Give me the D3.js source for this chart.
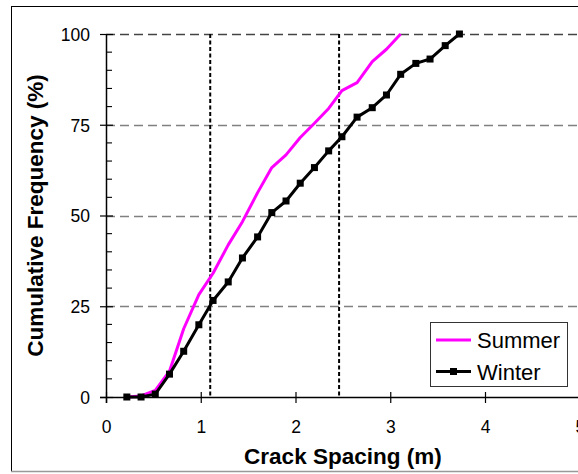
<!DOCTYPE html>
<html><head><meta charset="utf-8">
<script src="https://cdn.jsdelivr.net/npm/d3@7"></script>
<style>
html,body{margin:0;padding:0;background:#fff;}
svg{display:block;font-family:"Liberation Sans",Arial,sans-serif;}
</style></head>
<body>
<svg id="chart" width="578" height="474"></svg>
<script>
// ---- data ----
const winterX = [0.22,0.37,0.52,0.67,0.82,0.98,1.13,1.29,1.44,1.60,1.75,1.90,2.05,2.20,2.35,2.49,2.65,2.81,2.96,3.11,3.27,3.42,3.58,3.73];
const winterY = [0,0,0.8,6.3,12.6,19.9,26.6,31.7,38.3,44.1,50.8,54.0,58.9,63.2,67.8,71.7,77.1,79.7,83.2,88.9,91.9,93.1,96.8,100];
const summerX = [0.22,0.37,0.52,0.67,0.82,0.98,1.13,1.29,1.44,1.60,1.75,1.90,2.05,2.20,2.35,2.49,2.65,2.81,2.96,3.11];
const summerY = [0,0.3,1.8,7.1,18.8,28.2,34.1,41.9,48.3,56.3,63.2,66.7,71.5,75.4,79.5,84.4,86.6,92.4,95.8,100];
const xTicks = [0,1,2,3,4,5];
const yTicks = [0,25,50,75,100];
const yMinorTicks = [5,10,15,20,30,35,40,45,55,60,65,70,80,85,90,95];
const refLinesX = [1.1,2.46];
const seriesNames = ["Summer","Winter"];
const xTitle = "Crack Spacing (m)";
const yTitle = "Cumulative Frequency (%)";

const svg = d3.select("#chart");
const x = d3.scaleLinear().domain([0,5]).range([106, 579.75]);
const y = d3.scaleLinear().domain([0,100]).range([397, 34]);

// outer frame
svg.append("rect").attr("x",11.5).attr("y",6.5).attr("width",600).attr("height",465)
  .attr("fill","#fff").attr("stroke","#000").attr("stroke-width",1);
svg.append("line").attr("x1",11).attr("x2",578).attr("y1",471.5).attr("y2",471.5)
  .attr("stroke","#999").attr("stroke-width",1.5);

// horizontal gridlines
svg.append("g").selectAll("line").data(yTicks.filter(d=>d>0)).join("line")
  .attr("x1",x(0)).attr("x2",578)
  .attr("y1",d=>Math.round(y(d))+0.5).attr("y2",d=>Math.round(y(d))+0.5)
  .attr("stroke",d=>d===100?"#444":"#808080").attr("stroke-width",1.3)
  .attr("stroke-dasharray","9,5");

// vertical dotted reference lines
svg.append("g").selectAll("line").data(refLinesX).join("line")
  .attr("x1",d=>x(d)).attr("x2",d=>x(d)).attr("y1",y(100)).attr("y2",y(0))
  .attr("stroke","#000").attr("stroke-width",2).attr("stroke-dasharray","4,2.5");

// axes
const xAxis = d3.axisBottom(x).tickValues(xTicks).tickSize(0).tickPadding(0).tickFormat(d3.format("d"));
const gx = svg.append("g").attr("transform",`translate(0,${y(0)})`).call(xAxis);
gx.select(".domain").remove();
gx.append("line").attr("x1",x(0)-6).attr("x2",578).attr("y1",0.5).attr("y2",0.5).attr("stroke","#000").attr("stroke-width",1.5);
gx.selectAll(".tick").append("line").attr("y1",-5).attr("y2",6).attr("stroke","#000").attr("stroke-width",1.2);
gx.selectAll(".tick text").attr("y",36).attr("dy",null).attr("fill","#000")
  .attr("font-size",17.5).attr("font-family","Liberation Sans, Arial, sans-serif");

const yAxis = d3.axisLeft(y).tickValues(yTicks).tickSize(0).tickPadding(0).tickFormat(d3.format("d"));
const gy = svg.append("g").attr("transform",`translate(${x(0)},0)`).call(yAxis);
gy.select(".domain").remove();
gy.append("line").attr("x1",0.5).attr("x2",0.5).attr("y1",y(100)).attr("y2",y(0)+6).attr("stroke","#000").attr("stroke-width",1.5);
gy.selectAll(".tick").append("line").attr("x1",-6).attr("x2",7).attr("stroke","#000").attr("stroke-width",1.2);
gy.selectAll(".tick text").attr("x",-16).attr("dy","0.36em").attr("fill","#000")
  .attr("font-size",17.5).attr("font-family","Liberation Sans, Arial, sans-serif");
gy.append("g").selectAll("line").data(yMinorTicks).join("line")
  .attr("x1",0).attr("x2",6).attr("y1",d=>y(d)).attr("y2",d=>y(d))
  .attr("stroke","#000").attr("stroke-width",1.1);

// series
const line = d3.line().x(d=>x(d[0])).y(d=>y(d[1]));
const summer = summerX.map((v,i)=>[v,summerY[i]]);
const winter = winterX.map((v,i)=>[v,winterY[i]]);
svg.append("path").datum(summer).attr("d",line).attr("fill","none")
  .attr("stroke","#FF00FF").attr("stroke-width",3).attr("stroke-linejoin","round");
svg.append("path").datum(winter).attr("d",line).attr("fill","none")
  .attr("stroke","#000").attr("stroke-width",3).attr("stroke-linejoin","round");
svg.append("g").selectAll("rect").data(winter).join("rect")
  .attr("x",d=>x(d[0])-3.5).attr("y",d=>y(d[1])-3.5).attr("width",7).attr("height",7).attr("fill","#000");

// titles
svg.append("text").attr("x",(x(0)+x(5))/2).attr("y",463.5).attr("text-anchor","middle")
  .attr("font-weight","bold").attr("font-size",22.5).text(xTitle);
svg.append("text").attr("transform",`translate(42.5,${(y(0)+y(100))/2}) rotate(-90)`).attr("text-anchor","middle")
  .attr("font-weight","bold").attr("font-size",22.5).text(yTitle);

// legend
const lg = svg.append("g");
lg.append("rect").attr("x",430.5).attr("y",322.5).attr("width",137).attr("height",64)
  .attr("fill","#fff").attr("stroke","#333").attr("stroke-width",1);
const ly = [340, 371.5];
lg.append("line").attr("x1",436).attr("x2",471).attr("y1",ly[0]).attr("y2",ly[0]).attr("stroke","#FF00FF").attr("stroke-width",3);
lg.append("line").attr("x1",436).attr("x2",471).attr("y1",ly[1]).attr("y2",ly[1]).attr("stroke","#000").attr("stroke-width",3);
lg.append("rect").attr("x",450).attr("y",ly[1]-3.5).attr("width",7).attr("height",7).attr("fill","#000");
lg.selectAll("text").data(seriesNames).join("text")
  .attr("x",477).attr("y",(d,i)=>ly[i]+8).attr("font-size",22).attr("fill","#000").text(d=>d);
</script>
</body></html>
